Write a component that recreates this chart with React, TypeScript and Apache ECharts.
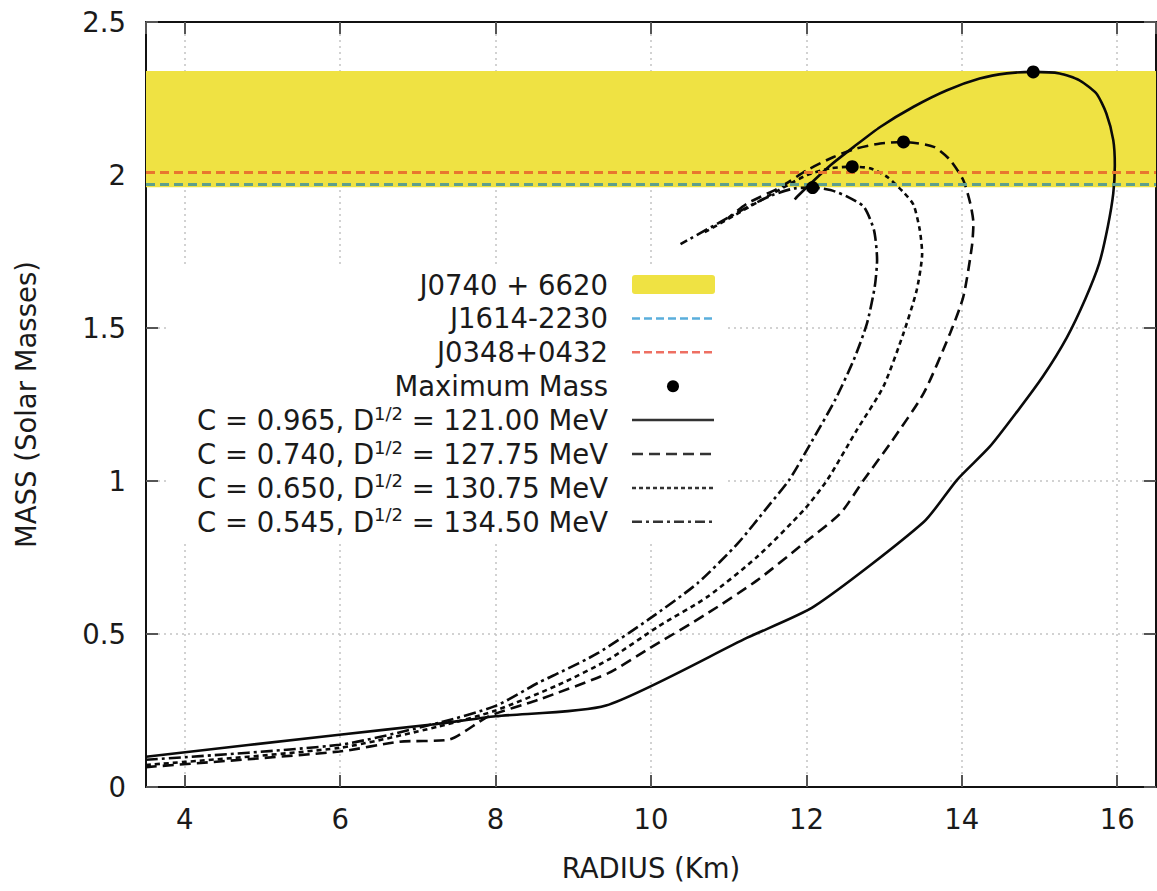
import React, { useEffect, useRef } from "react";
import * as echarts from "echarts";

// ---- Data ----
// C = 0.965, D^1/2 = 121.00 MeV (solid)
const radiusA = [3.5, 5.99, 7.18, 8.0, 9.42, 11.24, 12.10, 13.51, 13.94, 14.36, 14.71, 15.05, 15.35, 15.59, 15.77, 15.88, 15.95, 15.97, 15.95, 15.86, 15.73, 15.51, 15.26, 14.92, 14.58, 14.23, 13.81, 13.38, 12.95, 12.61, 12.31, 12.10, 11.88, 11.85];
const massA = [0.099, 0.171, 0.204, 0.231, 0.266, 0.488, 0.590, 0.866, 1.004, 1.112, 1.226, 1.344, 1.468, 1.595, 1.712, 1.832, 1.940, 2.032, 2.114, 2.202, 2.267, 2.310, 2.332, 2.337, 2.332, 2.315, 2.277, 2.223, 2.157, 2.092, 2.032, 1.983, 1.929, 1.92];
// C = 0.740, D^1/2 = 127.75 MeV (dashed)
const radiusB = [3.5, 5.99, 6.76, 7.40, 7.91, 8.55, 9.45, 9.96, 10.73, 11.37, 11.97, 12.44, 12.74, 13.08, 13.51, 13.85, 14.02, 14.13, 14.15, 14.11, 14.02, 13.85, 13.64, 13.25, 12.95, 12.65, 12.35, 12.01, 11.67, 11.24, 10.99];
const massB = [0.065, 0.116, 0.148, 0.155, 0.231, 0.285, 0.372, 0.45, 0.568, 0.676, 0.797, 0.895, 1.004, 1.123, 1.287, 1.483, 1.602, 1.766, 1.842, 1.907, 1.983, 2.049, 2.092, 2.108, 2.103, 2.087, 2.059, 2.016, 1.961, 1.907, 1.859];
// C = 0.650, D^1/2 = 130.75 MeV (dotted)
const radiusC = [3.5, 5.99, 7.27, 8.0, 8.81, 9.45, 10.09, 10.73, 11.37, 11.97, 12.27, 12.65, 12.99, 13.25, 13.42, 13.49, 13.46, 13.38, 13.26, 13.04, 12.82, 12.59, 12.31, 12.01, 11.76, 11.37, 10.67];
const massC = [0.072, 0.128, 0.198, 0.25, 0.334, 0.416, 0.524, 0.622, 0.753, 0.906, 1.004, 1.167, 1.308, 1.483, 1.624, 1.744, 1.82, 1.902, 1.941, 1.994, 2.022, 2.027, 2.022, 2.0, 1.967, 1.911, 1.81];
// C = 0.545, D^1/2 = 134.50 MeV (dash-dot)
const radiusD = [3.5, 5.99, 7.27, 8.0, 8.55, 8.81, 9.32, 9.96, 10.6, 11.12, 11.51, 11.78, 12.08, 12.37, 12.61, 12.78, 12.88, 12.91, 12.87, 12.74, 12.53, 12.31, 12.08, 11.84, 11.56, 11.24, 10.38];
const massD = [0.089, 0.138, 0.21, 0.265, 0.341, 0.372, 0.438, 0.546, 0.666, 0.797, 0.918, 1.004, 1.134, 1.265, 1.396, 1.515, 1.635, 1.723, 1.82, 1.896, 1.929, 1.951, 1.959, 1.956, 1.934, 1.895, 1.774];
// maximum masses
const peakRadius = [14.92, 13.25, 12.59, 12.08];
const peakMass = [2.337, 2.108, 2.027, 1.959];
// observational constraints
const bandJ0740 = [1.96, 2.34];
const massJ1614 = 1.97;
const massJ0348 = 2.01;
// legend labels
const pulsarLabels = ["J0740 + 6620", "J1614-2230", "J0348+0432", "Maximum Mass"];
const cValues = ["0.965", "0.740", "0.650", "0.545"];
const dValues = ["121.00", "127.75", "130.75", "134.50"];

const FONT = "DejaVu Sans";
const FS = 27.5;
const TXT = "#1a1a1a";
const dashes: any[] = ["solid", [11, 6], [5, 4], [12, 4, 3, 4]];
const legendDashes: any[] = [null, [11, 6], [4, 3], [10, 4, 3, 4]];

const pairs = (r: number[], m: number[]) => r.map((v, i) => [v, m[i]]);

export default function App() {
  const ref = useRef<HTMLDivElement>(null);
  useEffect(() => {
    if (!ref.current) return;
    const chart = echarts.init(ref.current, null, { renderer: "svg" });

    const curves = [pairs(radiusA, massA), pairs(radiusB, massB), pairs(radiusC, massC), pairs(radiusD, massD)];

    const rowY = (i: number) => 284.5 + i * 33.9;
    const legendEls: any[] = [
      { type: "rect", z: 1, shape: { x: 168, y: 266, width: 558, height: 274 }, style: { fill: "#ffffff" } },
    ];
    pulsarLabels.forEach((t, i) => {
      legendEls.push({
        type: "text", z: 10,
        style: { text: t, x: 608, y: rowY(i), align: "right", verticalAlign: "middle", fontSize: FS, fontFamily: FONT, fill: TXT },
      });
    });
    legendEls.push({ type: "rect", z: 10, shape: { x: 632, y: 275, width: 83, height: 19, r: 3 }, style: { fill: "#EFE243" } });
    legendEls.push({ type: "line", z: 10, shape: { x1: 632, y1: rowY(1), x2: 712, y2: rowY(1) }, style: { stroke: "#5AAEDC", lineWidth: 2.5, lineDash: [8, 4] } });
    legendEls.push({ type: "line", z: 10, shape: { x1: 632, y1: rowY(2), x2: 712, y2: rowY(2) }, style: { stroke: "#EE6F62", lineWidth: 2.5, lineDash: [8, 4] } });
    legendEls.push({ type: "circle", z: 10, shape: { cx: 673, cy: rowY(3), r: 6 }, style: { fill: "#000" } });
    cValues.forEach((c, i) => {
      const y = rowY(4 + i);
      legendEls.push({
        type: "text", z: 10,
        style: {
          text: `{a|C = ${c}, D}{b|1/2}{a| = ${dValues[i]} MeV}`,
          x: 608, y, align: "right", verticalAlign: "middle",
          rich: {
            a: { fontSize: FS, fontFamily: FONT, fill: TXT, lineHeight: 32 },
            b: { fontSize: 18, fontFamily: FONT, fill: TXT, verticalAlign: "top" },
          },
        },
      });
      const ls: any = { stroke: "#333", lineWidth: 2.5 };
      if (legendDashes[i]) ls.lineDash = legendDashes[i];
      legendEls.push({ type: "line", z: 10, shape: { x1: 632, y1: y, x2: 714, y2: y }, style: ls });
    });

    const axisLine = { show: true, onZero: false, lineStyle: { color: "#111", width: 2 } };
    const axisTick = { show: true, inside: true, length: 12, lineStyle: { color: "#555", width: 2 } };
    const split = { show: true, lineStyle: { color: "#c4c4c4", width: 1.5, type: [2, 4] } };

    chart.setOption({
      animation: false,
      backgroundColor: "#ffffff",
      grid: { left: 146, right: 1, top: 22, bottom: 104, containLabel: false },
      xAxis: [
        {
          type: "value", min: 3.5, max: 16.5, splitNumber: 6, position: "bottom",
          axisLine, axisTick, splitLine: split,
          axisLabel: { showMinLabel: false, showMaxLabel: false, fontSize: FS, fontFamily: FONT, color: TXT, margin: 18 },
          name: "RADIUS (Km)", nameLocation: "middle", nameGap: 67,
          nameTextStyle: { fontSize: FS, fontFamily: FONT, color: TXT },
        },
        {
          type: "value", min: 3.5, max: 16.5, splitNumber: 6, position: "top",
          axisLine, axisTick, splitLine: { show: false }, axisLabel: { show: false },
        },
      ],
      yAxis: [
        {
          type: "value", min: 0, max: 2.5, interval: 0.5, position: "left",
          axisLine, axisTick, splitLine: split,
          axisLabel: { fontSize: FS, fontFamily: FONT, color: TXT, margin: 20 },
          name: "MASS (Solar Masses)", nameLocation: "middle", nameGap: 106, nameRotate: 90,
          nameTextStyle: { fontSize: FS, fontFamily: FONT, color: TXT },
        },
        {
          type: "value", min: 0, max: 2.5, interval: 0.5, position: "right",
          axisLine, axisTick, splitLine: { show: false }, axisLabel: { show: false },
        },
      ],
      graphic: { elements: legendEls },
      series: [
        {
          type: "line", name: "constraints", data: [], silent: true,
          markArea: {
            silent: true,
            itemStyle: { color: "#EFE243" },
            data: [[{ yAxis: bandJ0740[0] }, { yAxis: bandJ0740[1] }]],
          },
          markLine: {
            silent: true, symbol: ["none", "none"], label: { show: false },
            data: [
              { yAxis: massJ1614, lineStyle: { color: "#5E9F8C", width: 3, type: [9, 5] } },
              { yAxis: massJ0348, lineStyle: { color: "#E8762E", width: 3, type: [9, 5] } },
            ],
          },
        },
        ...curves.map((d, i) => ({
          type: "line", name: `C = ${cValues[i]}`, data: d, showSymbol: false, symbol: "none",
          smooth: 0.22, silent: true,
          lineStyle: { color: "#0a0a0a", width: 2.6, type: dashes[i] },
        })),
        {
          type: "scatter", name: "Maximum Mass", data: pairs(peakRadius, peakMass),
          symbolSize: 13, itemStyle: { color: "#000", opacity: 1 }, z: 5, silent: true,
        },
      ],
    });
    return () => chart.dispose();
  }, []);
  return <div ref={ref} style={{ position: "absolute", left: 0, top: 0, width: 1157, height: 891 }} />;
}
